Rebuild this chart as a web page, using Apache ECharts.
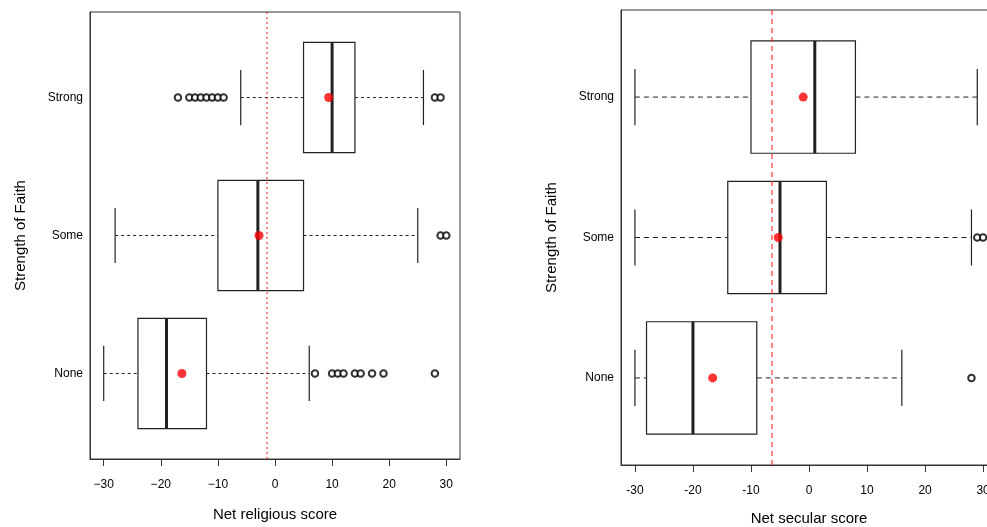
<!DOCTYPE html>
<html>
<head>
<meta charset="utf-8">
<script src="https://cdn.jsdelivr.net/npm/echarts@6/dist/echarts.min.js"></script>
<style>
  html, body { margin: 0; padding: 0; background: #fff; }
  #chart { width: 987px; height: 527px; }
</style>
</head>
<body>
<div id="chart"></div>
<script>
// Categories on the vertical axis (bottom to top)
const categories = ['None', 'Some', 'Strong'];
const xTicks = [-30, -20, -10, 0, 10, 20, 30];

// Net religious score: [lower whisker, Q1, median, Q3, upper whisker]
const religiousStats = [
  [-30, -24, -19, -12, 6],
  [-28, -10, -3, 5, 25],
  [-6, 5, 10, 14, 26]
];
const religiousMeans = [-16.3, -2.8, 9.4];
const religiousOutliers = [
  [7, 10, 11, 12, 14, 15, 17, 19, 28],
  [29, 30],
  [-17, -15, -14, -13, -12, -11, -10, -9, 28, 29]
];
const religiousOverall = -1.5;

// Net secular score: [lower whisker, Q1, median, Q3, upper whisker]
const secularStats = [
  [-30, -28, -20, -9, 16],
  [-30, -14, -5, 3, 28],
  [-30, -10, 1, 8, 29]
];
const secularMeans = [-16.6, -5.3, -1];
const secularOutliers = [
  [28],
  [29, 30],
  []
];
const secularOverall = -6.4;

const FONT = "'Liberation Sans', Arial, Helvetica, sans-serif";

function boxRenderer(dash) {
  return function (params, api) {
    const y = api.value(0);
    const wl = api.value(1), q1 = api.value(2), md = api.value(3), q3 = api.value(4), wh = api.value(5);
    const half = 0.4, cap = 0.2;
    const c = (x, yy) => api.coord([x, yy]);
    const mid = c(0, y)[1];
    const boxTop = c(0, y + half)[1], boxBot = c(0, y - half)[1];
    const capTop = c(0, y + cap)[1], capBot = c(0, y - cap)[1];
    const xl = c(wl, y)[0], x1 = c(q1, y)[0], xm = c(md, y)[0], x3 = c(q3, y)[0], xh = c(wh, y)[0];
    const ink = '#222';
    const seg = (ax, ay, bx, by, w, d) => ({
      type: 'line',
      shape: { x1: ax, y1: ay, x2: bx, y2: by },
      style: { stroke: ink, lineWidth: w, lineDash: d || null }
    });
    return {
      type: 'group',
      children: [
        seg(xl, mid, x1, mid, 1, dash),
        seg(x3, mid, xh, mid, 1, dash),
        seg(xl, capTop, xl, capBot, 1.2),
        seg(xh, capTop, xh, capBot, 1.2),
        {
          type: 'rect',
          shape: { x: x1, y: boxTop, width: x3 - x1, height: boxBot - boxTop },
          style: { fill: 'rgba(255,255,255,0)', stroke: ink, lineWidth: 1.2 }
        },
        seg(xm, boxTop, xm, boxBot, 3)
      ]
    };
  };
}

function xAxisFor(gridIndex, name, nameGap, minusSign) {
  return {
    type: 'value', gridIndex, min: -32.4, max: 32.4,
    splitLine: { show: false },
    axisLine: { show: true, onZero: false, lineStyle: { color: '#333', width: 1 } },
    axisTick: { show: true, customValues: xTicks, length: 7, lineStyle: { color: '#333' } },
    axisLabel: {
      customValues: xTicks, margin: 20, fontSize: 12, color: '#000', fontFamily: FONT,
      formatter: v => (v < 0 ? minusSign + Math.abs(v) : String(v))
    },
    name, nameLocation: 'middle', nameGap,
    nameTextStyle: { fontSize: 15, color: '#000', fontFamily: FONT }
  };
}

function yAxisFor(gridIndex) {
  return {
    type: 'value', gridIndex, min: 0.38, max: 3.62,
    splitLine: { show: false },
    axisLine: { show: true, onZero: false, lineStyle: { color: '#333', width: 1 } },
    axisTick: { show: false },
    axisLabel: {
      customValues: [1, 2, 3], margin: 7, fontSize: 12, color: '#000', fontFamily: FONT,
      formatter: v => categories[Math.round(v) - 1]
    },
    name: 'Strength of Faith', nameLocation: 'middle', nameGap: 62, nameRotate: 90,
    nameTextStyle: { fontSize: 15, color: '#000', fontFamily: FONT }
  };
}

function panelSeries(idx, stats, means, outliers, overall, dash, refDash) {
  const boxData = stats.map((s, i) => [i + 1].concat(s));
  const outData = [];
  outliers.forEach((list, i) => list.forEach(v => outData.push([v, i + 1])));
  const meanData = means.map((m, i) => [m, i + 1]);
  return [
    {
      type: 'custom', xAxisIndex: idx, yAxisIndex: idx,
      renderItem: boxRenderer(dash),
      encode: { x: [1, 2, 3, 4, 5], y: 0 },
      data: boxData, z: 2, silent: true
    },
    {
      type: 'scatter', xAxisIndex: idx, yAxisIndex: idx,
      symbol: 'emptyCircle', symbolSize: 6.5,
      itemStyle: { color: '#000', borderColor: '#000', borderWidth: 1.5 },
      data: outData, z: 3, silent: true
    },
    {
      type: 'scatter', xAxisIndex: idx, yAxisIndex: idx,
      symbol: 'circle', symbolSize: 9,
      itemStyle: { color: '#ff0000' },
      data: meanData, z: 4, silent: true,
      markLine: {
        silent: true, symbol: 'none', label: { show: false },
        lineStyle: { color: 'rgba(255,40,40,0.7)', type: refDash, width: 1.6 },
        data: [{ xAxis: overall }]
      }
    }
  ];
}

const chart = echarts.init(document.getElementById('chart'));
chart.setOption({
  animation: false,
  backgroundColor: '#fff',
  grid: [
    { left: 90, width: 370, top: 12, height: 447, show: true, borderColor: '#333', borderWidth: 1,
      containLabel: false, outerBoundsMode: 'none' },
    { left: 621, width: 376, top: 10, height: 455, show: true, borderColor: '#333', borderWidth: 1,
      containLabel: false, outerBoundsMode: 'none' }
  ],
  xAxis: [
    xAxisFor(0, 'Net religious score', 48, '\u2212'),
    xAxisFor(1, 'Net secular score', 46, '-')
  ],
  yAxis: [yAxisFor(0), yAxisFor(1)],
  series: [].concat(
    panelSeries(0, religiousStats, religiousMeans, religiousOutliers, religiousOverall, [3, 3], [2, 3]),
    panelSeries(1, secularStats, secularMeans, secularOutliers, secularOverall, [5, 4], [5, 4])
  )
});
</script>
</body>
</html>
